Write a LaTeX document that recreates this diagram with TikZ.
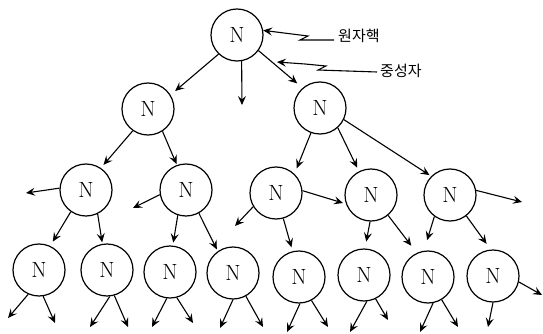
\documentclass[tikz,border=0pt]{standalone}
\usepackage{fontspec}
\newfontfamily\kr{Noto Sans CJK KR}
\usetikzlibrary{arrows.meta}
\begin{document}
\begin{tikzpicture}[x=1pt,y=-1pt,
 nuc/.style={circle,draw,line width=1.2pt,minimum size=52pt,inner sep=0pt,font=\fontsize{22}{24}\selectfont},
 arr/.style={line width=1.1pt,-{Stealth[length=9pt,width=8pt,inset=3.5pt]}},
 lab/.style={anchor=west,inner sep=0pt,font=\kr\fontsize{15}{16}\selectfont}]
\useasboundingbox (0,0) rectangle (543,334);
% nuclei
\node[nuc] (r) at (237,35) {N};
\node[nuc] (a) at (148,109) {N};
\node[nuc] (b) at (320,108) {N};
\node[nuc] (c) at (86,190) {N};
\node[nuc] (d) at (186,190) {N};
\node[nuc] (e) at (276,193) {N};
\node[nuc] (f) at (371,195) {N};
\node[nuc] (g) at (450,195) {N};
\node[nuc] (h1) at (39,270) {N};
\node[nuc] (h2) at (107,270) {N};
\node[nuc] (h3) at (170,272) {N};
\node[nuc] (h4) at (233,273) {N};
\node[nuc] (h5) at (299,277) {N};
\node[nuc] (h6) at (364,275) {N};
\node[nuc] (h7) at (428,277) {N};
\node[nuc] (h8) at (493,276) {N};
% labels
\node[lab] (l1) at (338,36) {원자핵};
\node[lab] (l2) at (380,71) {중성자};
% free ends
\coordinate (fr) at (242,105);
\coordinate (fc) at (26,193);
\coordinate (fd) at (133,208);
\coordinate (fe1) at (235,226);
\coordinate (fe2) at (343,203);
\coordinate (fg) at (522,202);
\coordinate (n2) at (277,62);
\coordinate (b1l) at (8,318);  \coordinate (b1r) at (55,323);
\coordinate (b2l) at (90,327); \coordinate (b2r) at (128,327);
\coordinate (b3l) at (152,327); \coordinate (b3r) at (193,323);
\coordinate (b4l) at (220,328); \coordinate (b4r) at (263,327);
\coordinate (b5l) at (287,332); \coordinate (b5r) at (328,327);
\coordinate (b6l) at (350,332); \coordinate (b6r) at (388,320);
\coordinate (b7l) at (420,332); \coordinate (b7r) at (458,327);
\coordinate (b8d) at (488,327); \coordinate (b8r) at (542,295);
% label pointers
\draw[arr] (l1.west) ++(-4,4) -- (300,40) -- (308,36) -- (292,34) -- (r.10);
\draw[arr] (l2.west) ++(-3,1) -- (318,70) -- (326,66) -- (305,64) -- (n2);
% level 0
\draw[arr,shorten >=6pt] (r.226) -- (a.32);
\draw[arr,shorten >=7pt] (r.-36) -- (b.131);
\draw[arr] (r.-80) -- (fr);
% level 1
\draw[arr,shorten >=4pt] (a.235) -- (c.56);
\draw[arr,shorten >=1pt] (a.-57) -- (d.110);
\draw[arr,shorten >=6pt] (b.-110) -- (e.46);
\draw[arr,shorten >=4pt] (b.-48) -- (f.117);
\draw[arr,shorten >=2pt] (b.-26) -- (g.135);
% level 2
\draw[arr] (c.176) -- (fc);
\draw[arr,shorten >=5pt] (c.-125) -- (h1.65);
\draw[arr,shorten >=1.5pt] (c.-64) -- (h2.100);
\draw[arr] (d.190) -- (fd);
\draw[arr,shorten >=3pt] (d.-108) -- (h3.84);
\draw[arr,shorten >=2pt] (d.-61) -- (h4.125);
\draw[arr] (e.211) -- (fe1);
\draw[arr] (e.5) -- (fe2);
\draw[arr,shorten >=4pt] (e.-74) -- (h5.104);
\draw[arr,shorten >=7pt] (f.-92) -- (h6.88);
\draw[arr,shorten >=9pt] (f.-50) -- (h7.115);
\draw[arr] (g.10) -- (fg);
\draw[arr,shorten >=11pt] (g.-126) -- (h7.99);
\draw[arr,shorten >=7pt] (g.-52) -- (h8.95);
% level 3
\draw[arr] (h1.-114) -- (b1l); \draw[arr] (h1.-81) -- (b1r);
\draw[arr] (h2.-84) -- (b2l);  \draw[arr] (h2.-74) -- (b2r);
\draw[arr] (h3.-97) -- (b3l);  \draw[arr] (h3.-75) -- (b3r);
\draw[arr] (h4.-90) -- (b4l);  \draw[arr] (h4.-61) -- (b4r);
\draw[arr] (h5.-88) -- (b5l);  \draw[arr] (h5.-62) -- (b5r);
\draw[arr] (h6.-84) -- (b6l);  \draw[arr] (h6.-64) -- (b6r);
\draw[arr] (h7.-79) -- (b7l);  \draw[arr] (h7.-59) -- (b7r);
\draw[arr] (h8.-90) -- (b8d);  \draw[arr] (h8.-13) -- (b8r);
\end{tikzpicture}
\end{document}
